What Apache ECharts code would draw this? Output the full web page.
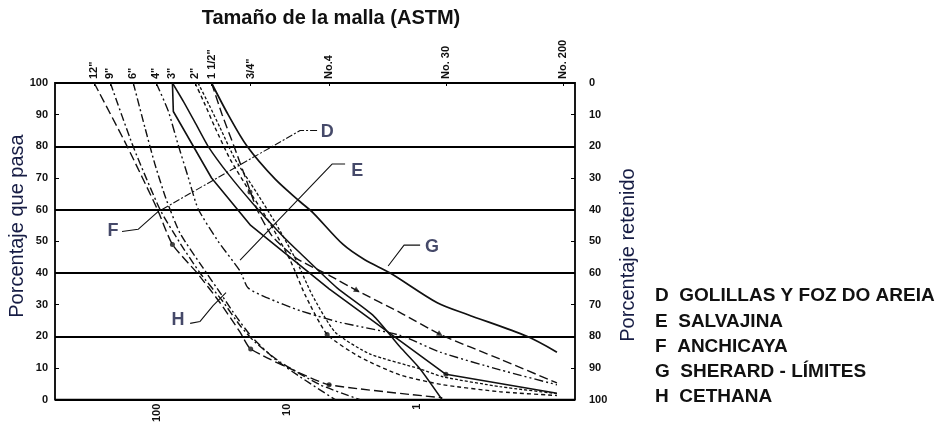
<!DOCTYPE html>
<html>
<head>
<meta charset="utf-8">
<title>Tamaño de la malla (ASTM)</title>
<script src="https://cdn.jsdelivr.net/npm/echarts@6/dist/echarts.min.js"></script>
<style>
    *{margin:0;padding:0;}
    body{background:#fff;overflow:hidden;}
    #main{width:941px;height:425px;}
</style>
</head>
<body>
<div id="main"></div>
<script type="text/javascript">
    // tamices ASTM (mm) y etiquetas del eje superior
    var sieveMm = [304.8, 228.6, 152.4, 101.6, 76.2, 50.8, 38.1, 19.05, 4.75, 0.6, 0.075];
    var sieveLabels = ['12"', '9"', '6"', '4"', '3"', '2"', '1 1/2"', '3/4"', 'No.4', 'No. 30', 'No. 200'];
    // eje inferior (mm)
    var bottomMm = [100, 10, 1];
    var bottomLabels = ['100', '10', '1'];

    // curvas granulometricas [mm, % que pasa]
    var curveG1 = [[38.1,100],[28.4,90],[20.3,80],[12.4,69.7],[7.94,62.5],[6.31,59],[3.71,49],[2.51,44.1],[1.61,40],[0.70,30.6],[0.41,26.9],[0.143,20],[0.084,15]];
    var curveG2 = [[76.2,100],[75,91],[38.1,70],[19.05,55],[4.75,35],[0.6,8],[0.084,2]];
    var curveE1 = [[76.2,100],[62,93.8],[50.1,86.9],[40.5,80],[28.4,71.3],[18.3,61.9],[11.3,52.5],[7.94,46.3],[4.13,35.3],[2.18,26.6],[1.35,16.6],[0.948,9.7],[0.642,0]];
    var curveE2 = [[38.1,100],[31.6,90],[25.6,80],[21,70.3],[17,60],[13,51.6],[8.53,44.7],[4.67,39.1],[2.89,34.4],[1.35,27.5],[0.665,20.6],[0.23,12.8],[0.084,5.3]];
    var curveD1 = [[51,100],[42.7,93.1],[35.8,85.9],[27.4,75.9],[19.3,65.6],[13.5,55.6],[9.48,44.1],[7.27,33.1],[4.92,20.6],[2.74,13.4],[1.35,7.8],[0.631,4.7],[0.23,2.5],[0.084,1.3]];
    var curveD2 = [[48.4,100],[39.8,93.1],[32.8,85.9],[25.1,75.9],[17.3,65.6],[12.2,55.6],[8.53,44.1],[6.42,33.1],[4.27,21.3],[2.3,14.4],[0.948,9.7],[0.631,7.2],[0.23,4.1],[0.084,1.9]];
    var curveF3 = [[101.6,100],[82.3,91.3],[69,80.6],[57.7,70.3],[48.4,60.3],[33.9,50],[23,40.6],[20,35.3],[14.3,32.2],[7.94,28.1],[3.91,24.4],[1.35,20.3],[0.665,15],[0.23,9.4],[0.084,4.7]];
    var curveH = [[304.8,100],[170,80],[100,60.3],[76.2,49],[49.2,40],[32.8,30.6],[23,21.3],[19.05,16],[8.38,8.8],[4.75,4.7],[0.64,0.6]];
    var curveF1 = [[228.6,100],[153,80],[94.8,60],[66.5,49.4],[46.7,40],[31.6,31.3],[23,23.4],[17.6,18.1],[11.3,11.9],[5.57,4.7],[2.74,0]];
    var curveF2 = [[152.4,100],[124,85.9],[104,74.4],[85.3,63.4],[66.5,52.5],[44.3,41.6],[32.8,33.8],[24.3,25.9],[18.6,19.7],[12.4,12.8],[7.94,7.2],[4.27,0]];

    // puntos marcados sobre las curvas
    var dotMarks = [[76.2,49],[19.05,16],[4.75,4.7],[19.3,65.6],[4.92,20.6],[0.6,8]];
    var arrowMarks = [[2.89,34.4],[0.665,20.6]];

    // lineas de referencia de las letras
    var leadD = [[5.88,85],[7.94,85],[94.8,59.7]];
    var leadE = [[3.58,74.4],[4.51,74.4],[23,44.1]];
    var leadF = [[186,53.1],[140,53.8],[98.3,59.4]];
    var leadG = [[0.948,48.8],[1.26,48.8],[1.67,42.2]];
    var leadH = [[55.7,24.1],[46.7,24.7],[37.1,29.7],[29.5,33.8]];
    var letters = ['D', 'E', 'F', 'G', 'H'];
    var letterPos = [[4.92,84.4],[2.89,72.2],[218,53.1],[0.767,48.1],[69,25.3]];

    var legendLines = ['D  GOLILLAS Y FOZ DO AREIA', 'E  SALVAJINA', 'F  ANCHICAYA', 'G  SHERARD - LÍMITES', 'H  CETHANA'];

    var FONT = '"Liberation Sans", Arial, sans-serif';
    var INK = '#111111';
    var NAVY = '#161c44';

    function toXY(arr) {
        return arr.map(function (p) { return [Math.log10(p[0]), p[1]]; });
    }
    function labelFor(v, mm, labels) {
        for (var i = 0; i < mm.length; i++) {
            if (Math.abs(Math.log10(mm[i]) - v) < 1e-6) return labels[i];
        }
        return '';
    }
    function curve(name, data, dash, width, smooth) {
        return {
            name: name,
            type: 'line',
            data: toXY(data),
            symbol: 'none',
            silent: true,
            smooth: smooth || false,
            lineStyle: { color: INK, width: width || 1.4, type: dash || 'solid' },
            z: 3
        };
    }

    var xMin = Math.log10(0.061);
    var xMax = Math.log10(610);

    var myChart = echarts.init(document.getElementById('main'));
    var option = {
        animation: false,
        backgroundColor: '#fff',
        grid: { left: 55, right: 366, top: 83, bottom: 22, show: true, borderColor: '#000', borderWidth: 1.8 },
        xAxis: [
            {
                type: 'value', position: 'bottom', min: xMin, max: xMax, inverse: true,
                axisLine: { show: false, onZero: false }, axisTick: { show: false }, splitLine: { show: false },
                axisLabel: {
                    customValues: bottomMm.map(Math.log10),
                    formatter: function (v) { return labelFor(v, bottomMm, bottomLabels); },
                    rotate: 90, margin: 4, fontSize: 11, fontWeight: 'bold', color: INK, fontFamily: FONT
                }
            },
            {
                type: 'value', position: 'top', min: xMin, max: xMax, inverse: true,
                axisLine: { show: false, onZero: false }, splitLine: { show: false },
                axisTick: { show: true, inside: true, length: 3, customValues: sieveMm.map(Math.log10), lineStyle: { color: '#000' } },
                axisLabel: {
                    customValues: sieveMm.map(Math.log10),
                    formatter: function (v) { return labelFor(v, sieveMm, sieveLabels); },
                    rotate: -90, margin: 4, fontSize: 11, fontWeight: 'bold', color: INK, fontFamily: FONT
                }
            }
        ],
        yAxis: [
            {
                type: 'value', position: 'left', min: 0, max: 100, interval: 10,
                axisLine: { show: false, onZero: false },
                axisTick: { show: true, inside: true, length: 4, lineStyle: { color: '#000' } },
                axisLabel: { margin: 7, fontSize: 11, fontWeight: 'bold', color: INK, fontFamily: FONT },
                splitLine: { show: false }
            },
            {
                type: 'value', position: 'right', min: 0, max: 100, interval: 10, inverse: true,
                axisLine: { show: false, onZero: false },
                axisTick: { show: true, inside: true, length: 4, lineStyle: { color: '#000' } },
                axisLabel: { margin: 14, fontSize: 11, fontWeight: 'bold', color: INK, fontFamily: FONT },
                splitLine: { show: false }
            },
            {
                type: 'value', position: 'left', min: 0, max: 100, interval: 20,
                axisLine: { show: false, onZero: false }, axisTick: { show: false }, axisLabel: { show: false },
                splitLine: { show: true, lineStyle: { color: '#000', width: 1.9 } }
            }
        ],
        graphic: [
            { type: 'text', x: 331, y: 18, style: { text: 'Tamaño de la malla (ASTM)', align: 'center', verticalAlign: 'middle', font: 'bold 20px ' + FONT, fill: INK } },
            { type: 'text', x: 17, y: 226, rotation: Math.PI / 2, style: { text: 'Porcentaje que pasa', align: 'center', verticalAlign: 'middle', font: '20px ' + FONT, fill: NAVY } },
            { type: 'text', x: 628, y: 255, rotation: Math.PI / 2, style: { text: 'Porcentaje retenido', align: 'center', verticalAlign: 'middle', font: '20px ' + FONT, fill: NAVY } }
        ].concat(legendLines.map(function (t, i) {
            return { type: 'text', x: 655, y: 296 + i * 25.3, style: { text: t, align: 'left', verticalAlign: 'middle', font: 'bold 19px ' + FONT, fill: INK } };
        })),
        series: [
            curve('G fino', curveG1, 'solid', 1.7, 0.3),
            curve('G grueso', curveG2, 'solid', 1.6),
            curve('E1', curveE1, 'solid', 1.5, 0.2),
            curve('E2', curveE2, [9, 4], 1.4, 0.2),
            curve('D1', curveD1, [4, 3], 1.4, 0.2),
            curve('D2', curveD2, [3, 2], 1.3, 0.2),
            curve('F3', curveF3, [9, 3, 2, 3, 2, 3], 1.4, 0.2),
            curve('H', curveH, [9, 4], 1.4, 0.2),
            curve('F1', curveF1, [8, 3, 2, 3], 1.4, 0.2),
            curve('F2', curveF2, [8, 3, 2, 3], 1.4, 0.2),
            curve('lead D', leadD, [7, 2, 2, 2], 1.1),
            curve('lead E', leadE, 'solid', 1.1),
            curve('lead F', leadF, 'solid', 1.1),
            curve('lead G', leadG, 'solid', 1.1),
            curve('lead H', leadH, 'solid', 1.1),
            {
                name: 'puntos', type: 'scatter', data: toXY(dotMarks), symbol: 'circle', symbolSize: 5,
                itemStyle: { color: INK }, silent: true, z: 4
            },
            {
                name: 'flechas', type: 'scatter', data: toXY(arrowMarks), symbol: 'triangle', symbolSize: 6, symbolRotate: -120,
                itemStyle: { color: INK }, silent: true, z: 4
            },
            {
                name: 'letras', type: 'scatter', data: toXY(letterPos), symbolSize: 1,
                itemStyle: { color: 'rgba(0,0,0,0)' }, silent: true, z: 5,
                label: {
                    show: true, position: 'inside',
                    formatter: function (p) { return letters[p.dataIndex]; },
                    fontSize: 18, fontWeight: 'bold', color: NAVY, fontFamily: FONT
                }
            }
        ]
    };
    myChart.setOption(option);
</script>
</body>
</html>
